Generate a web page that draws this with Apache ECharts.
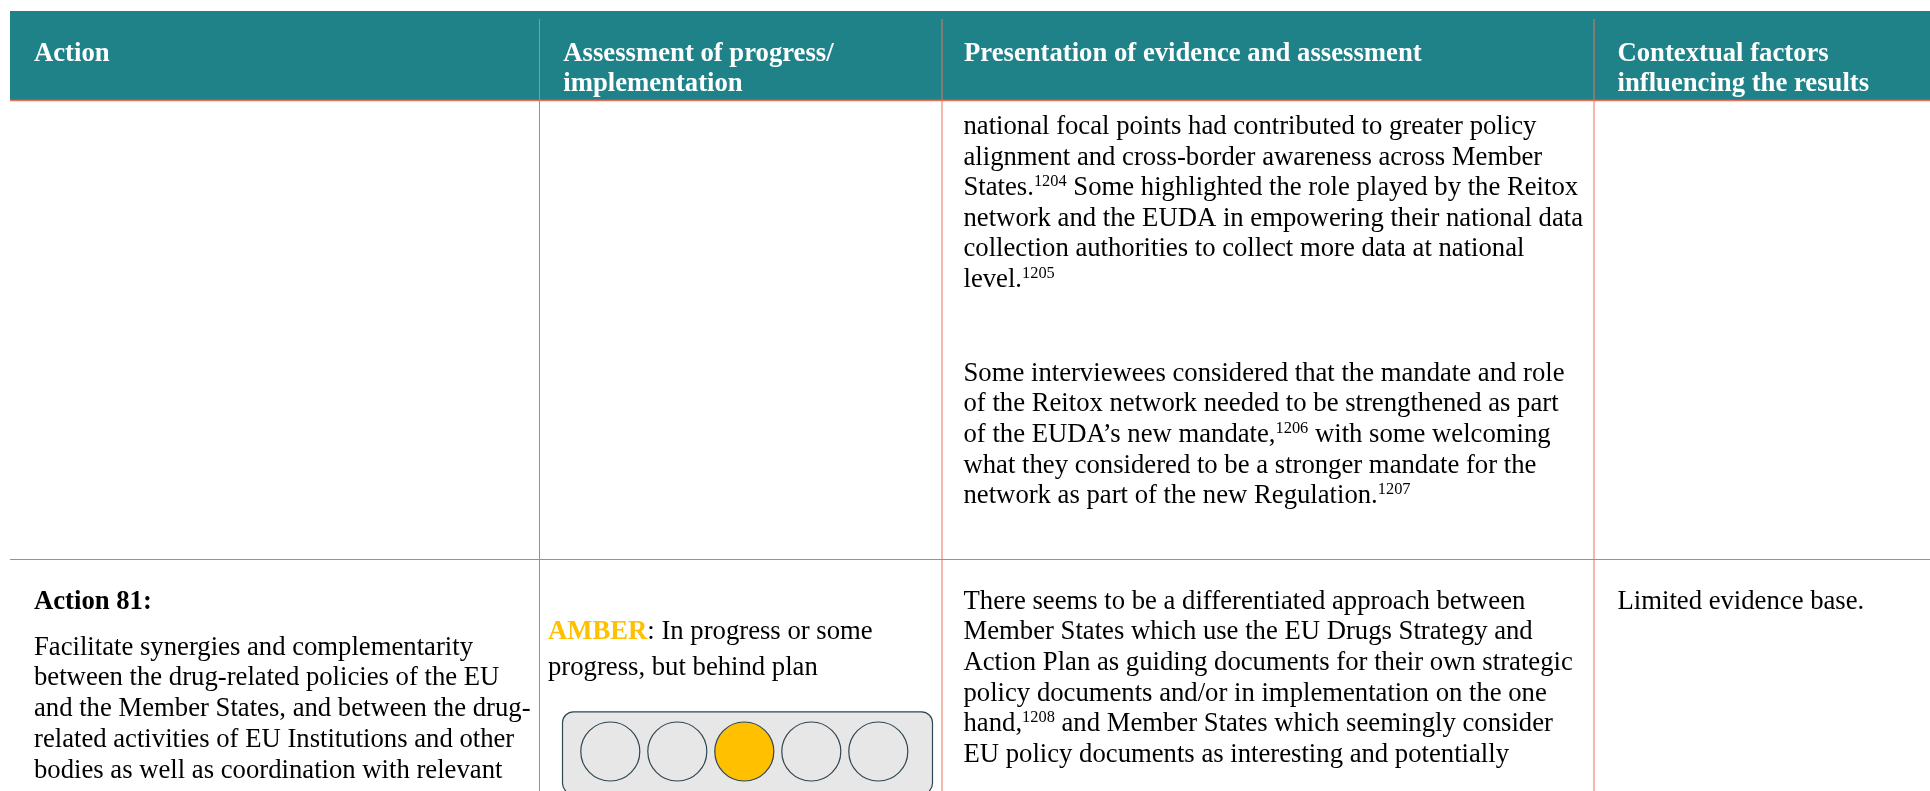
<!DOCTYPE html>
<html><head><meta charset="utf-8">
<style>html,body{margin:0;padding:0;background:#fff;overflow:hidden}#c{width:1930px;height:791px}</style>
<script src="https://cdn.jsdelivr.net/npm/echarts@6/dist/echarts.min.js"></script>
</head><body><div id="c"></div>
<script>
const headers = ['Action', 'Assessment of progress/', 'implementation', 'Presentation of evidence and assessment', 'Contextual factors', 'influencing the results'];
const paragraphOne = ['national focal points had contributed to greater policy','alignment and cross-border awareness across Member','States.^1204^ Some highlighted the role played by the Reitox','network and the EUDA in empowering their national data','collection authorities to collect more data at national','level.^1205^'];
const paragraphTwo = ['Some interviewees considered that the mandate and role','of the Reitox network needed to be strengthened as part','of the EUDA\u2019s new mandate,^1206^ with some welcoming','what they considered to be a stronger mandate for the','network as part of the new Regulation.^1207^'];
const paragraphThree = ['There seems to be a differentiated approach between','Member States which use the EU Drugs Strategy and','Action Plan as guiding documents for their own strategic','policy documents and/or in implementation on the one','hand,^1208^ and Member States which seemingly consider','EU policy documents as interesting and potentially'];
const actionTitle = 'Action 81:';
const actionLines = ['Facilitate synergies and complementarity','between the drug-related policies of the EU','and the Member States, and between the drug-','related activities of EU Institutions and other','bodies as well as coordination with relevant'];
const ratingWord = 'AMBER';
const ratingLines = [': In progress or some','progress, but behind plan'];
const factorText = 'Limited evidence base.';
const lightSlots = ['1','2','3','4','5'];
const lightLit = [0,0,1,0,0];

const TEAL='#1f8288', RULE='#e8735a', AMBER='#ffc000', INK='#2f4653', FONT='"Liberation Serif"';
const SIZE=26.7, SUP=16.4, NUDGE=2.4;
const mctx=document.createElement('canvas').getContext('2d');
function width(t,size,weight){mctx.font=(weight||'normal')+' '+size+'px '+FONT;return mctx.measureText(t).width;}
const g=[];
function put(t,x,base,opt){opt=opt||{};const size=opt.size||SIZE;
  g.push({type:'text',z:5,x:x,y:base+NUDGE-0.3375*size,style:{text:t,fill:opt.fill||'#000',font:(opt.weight||'normal')+' '+size+'px '+FONT,verticalAlign:'middle',align:'left'}});}
function line(t,x,base){let cx=x;t.split('^').forEach((s,i)=>{if(!s)return;
  if(i%2){put(s,cx,base-10,{size:SUP});cx+=width(s,SUP);}else{put(s,cx,base);cx+=width(s,SIZE);}});}
function block(lines,x,bases){lines.forEach((t,i)=>line(t,x,bases[i]));}
function rule(x1,y1,x2,y2,w){g.push({type:'line',z:4,shape:{x1,y1,x2,y2},style:{stroke:RULE,lineWidth:w||1}});}

g.push({type:'rect',z:1,shape:{x:10,y:11,width:1920,height:89},style:{fill:TEAL}});
[[0,34,61],[1,563.3,61],[2,563.3,90.7],[3,964,61],[4,1617.5,61],[5,1617.5,90.7]].forEach(h=>{
  put(headers[h[0]],h[1],h[2],{weight:'bold',fill:'#fff'});});
rule(10,100.5,1930,100.5,1.5);rule(10,559.5,1930,559.5,1);
[539.5,942,1594].forEach(x=>rule(x,19,x,791,1));

block(paragraphOne,963.5,[134,164.4,195,225.3,255.8,286.5]);
block(paragraphTwo,963.5,[380.7,410.7,441.7,472.3,502.7]);
block(paragraphThree,963.5,[608.7,638.7,669.7,700.7,731,761.7]);
put(factorText,1617.5,608.7);
put(actionTitle,34,608.3,{weight:'bold'});
block(actionLines,34,[654.3,685,715.7,746.7,777.3]);
put(ratingWord,548,638.7,{weight:'bold',fill:AMBER});
put(ratingLines[0],548+width(ratingWord,SIZE,'bold'),638.7);
put(ratingLines[1],548,674.3);
g.push({type:'rect',z:1,shape:{x:562.5,y:711.8,width:370,height:82.5,r:11},style:{fill:'#e7e7e7',stroke:INK,lineWidth:1.2}});

const chart=echarts.init(document.getElementById('c'),null,{renderer:'canvas'});
chart.setOption({animation:false,backgroundColor:'#fff',
  grid:{left:576.8,width:335,top:712,height:82},
  xAxis:{type:'category',data:lightSlots,show:false},
  yAxis:{type:'value',min:0,max:1,show:false},
  series:[{type:'scatter',symbol:'circle',symbolSize:59,silent:true,
    data:lightSlots.map((s,i)=>({value:[s,0.5],itemStyle:{color:lightLit[i]?AMBER:'#e7e7e7',borderColor:INK,borderWidth:1.2,opacity:1}}))}],
  graphic:{elements:g}});
</script></body></html>
